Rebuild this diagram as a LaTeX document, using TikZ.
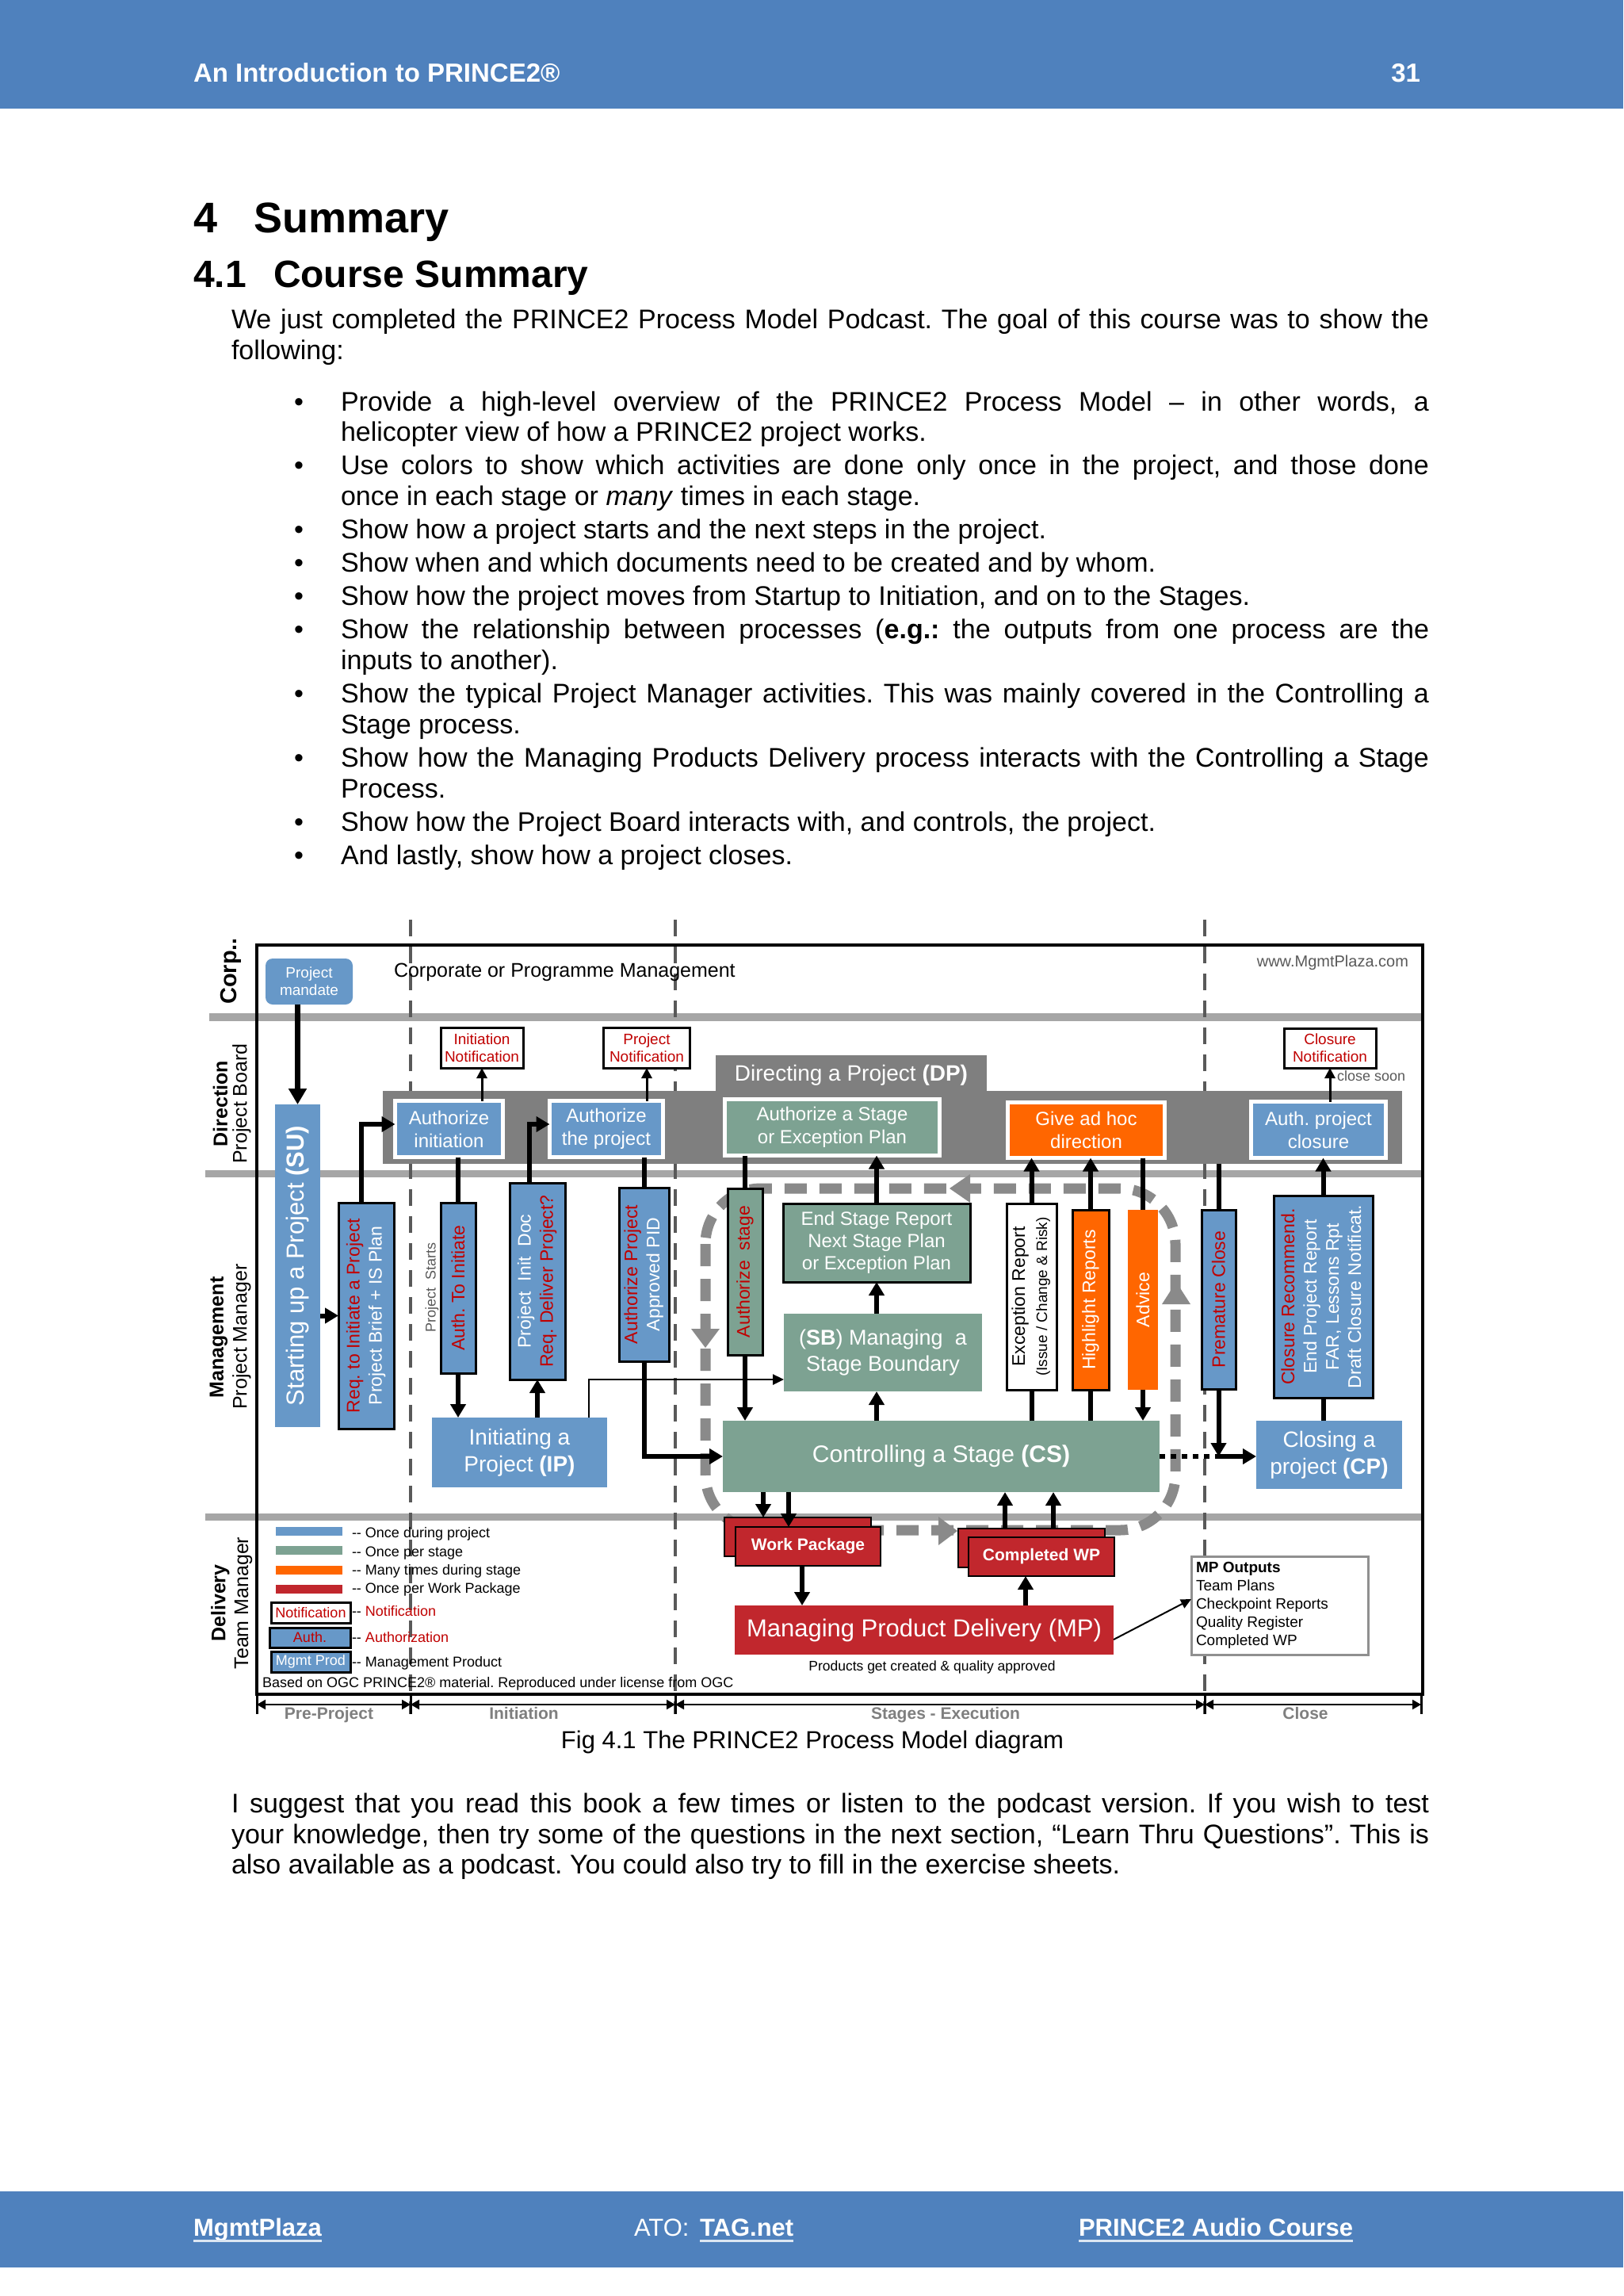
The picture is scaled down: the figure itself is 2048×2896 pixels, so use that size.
\documentclass[tikz,border=0pt]{standalone}
\usepackage{fontspec}
\usepackage{graphicx}
\setmainfont{Liberation Sans}
\usetikzlibrary{arrows.meta,calc}
\frenchspacing
\definecolor{hdrblue}{HTML}{4F81BD}
\definecolor{pblue}{HTML}{6798C8}
\definecolor{pgreen}{HTML}{7DA292}
\definecolor{porange}{HTML}{FF6600}
\definecolor{pred}{HTML}{C1272D}
\definecolor{tred}{HTML}{C00000}
\definecolor{bandgray}{HTML}{A6A6A6}
\definecolor{dpgray}{HTML}{7F7F7F}
\definecolor{dashgray}{HTML}{595959}
\definecolor{loopgray}{HTML}{8A8A8A}
\definecolor{phasegray}{HTML}{7F7F7F}
\definecolor{mpgray}{HTML}{909090}
\definecolor{ulcol}{HTML}{DCE6F2}
\newcommand{\fsz}[2]{\fontsize{#1}{#2}\selectfont}
\newcommand{\vtxt}[1]{\rotatebox{90}{\begin{tabular}{@{}c@{}}#1\end{tabular}}}
\tikzset{
  every node/.style={inner sep=0pt, outer sep=0pt},
  bx/.style={rectangle, align=center, text=white},
  blu/.style={bx, fill=pblue},
  grn/.style={bx, fill=pgreen},
  org/.style={bx, fill=porange},
  rd/.style={bx, fill=pred},
  wbord/.style={draw=white, line width=5pt},
  bbord/.style={draw=black, line width=3pt},
  wpbox/.style={rd, draw=black, line width=2.5pt, minimum height=49pt, font=\fsz{21}{24}\bfseries},
  notif/.style={rectangle, draw=black, line width=3pt, fill=white, text=tred, align=center, font=\fsz{19}{22}},
  thk/.style={line width=6pt, -{Triangle[length=17pt,width=19pt]}},
  bigarr/.style={line width=7pt, -{Triangle[length=20pt,width=22pt]}},
  thkn/.style={line width=6pt},
  thn/.style={line width=3pt, -{Triangle[length=13pt,width=13pt]}},
  phase/.style={line width=2pt, {Triangle[length=11pt,width=12pt]}-{Triangle[length=11pt,width=12pt]}},
  body/.style={anchor=base west, font=\fsz{34}{39}},
  sidelbl/.style={rotate=90, font=\fsz{25}{28}},
  vfont/.style={font=\fsz{23}{28}},
  legt/.style={anchor=base west, font=\fsz{18}{21}},
  phlbl/.style={anchor=base, text=phasegray, font=\fsz{21}{24}\bfseries},
  foot/.style={anchor=base west, text=white, font=\fsz{31}{36}\bfseries},
}
\begin{document}
\begin{tikzpicture}[x=1pt,y=-1pt]
\useasboundingbox (0,0) rectangle (2048,2896);
\fill[white] (0,0) rectangle (2048,2896);
% ---------- header ----------
\fill[hdrblue] (0,0) rectangle (2048,137);
\node[anchor=base west, text=white, font=\fsz{33}{38}\bfseries] (hdrT) at (244,103) {An Introduction to PRINCE2®};
\node[anchor=base east, text=white, font=\fsz{33}{38}\bfseries] (hdrN) at (1792,103) {31};
% ---------- headings ----------
\node[anchor=base west, font=\fsz{54}{60}\bfseries] (h1n) at (244,293) {4};
\node[anchor=base west, font=\fsz{54}{60}\bfseries] (h1t) at (320,293) {Summary};
\node[anchor=base west, font=\fsz{48}{54}\bfseries] (h2n) at (244,362) {4.1};
\node[anchor=base west, font=\fsz{48}{54}\bfseries] (h2t) at (345,362) {Course Summary};
% ---------- body ----------
\node[body] (p1) at (292,414.6) {\makebox[1511pt][s]{We just completed the PRINCE2 Process Model Podcast. The goal of this course was to show the}};
\node[body] (p2) at (292,453.4) {following:};
\node[body] (u1) at (371,518) {•};
\node[body] (b1a) at (430,518) {\makebox[1373pt][s]{Provide a high-level overview of the PRINCE2 Process Model – in other words, a}};
\node[body] (b1b) at (430,556.8) {helicopter view of how a PRINCE2 project works.};
\node[body] (u2) at (371,598.8) {•};
\node[body] (b2a) at (430,598.8) {\makebox[1373pt][s]{Use colors to show which activities are done only once in the project, and those done}};
\node[body] (b2b) at (430,637.6) {once in each stage or \textit{many} times in each stage.};
\node[body] (u3) at (371,679.6) {•};
\node[body] (b3) at (430,679.6) {Show how a project starts and the next steps in the project.};
\node[body] (u4) at (371,721.6) {•};
\node[body] (b4) at (430,721.6) {Show when and which documents need to be created and by whom.};
\node[body] (u5) at (371,763.6) {•};
\node[body] (b5) at (430,763.6) {Show how the project moves from Startup to Initiation, and on to the Stages.};
\node[body] (u6) at (371,805.6) {•};
\node[body] (b6a) at (430,805.6) {\makebox[1373pt][s]{Show the relationship between processes (\textbf{e.g.:} the outputs from one process are the}};
\node[body] (b6b) at (430,844.4) {inputs to another).};
\node[body] (u7) at (371,886.4) {•};
\node[body] (b7a) at (430,886.4) {\makebox[1373pt][s]{Show the typical Project Manager activities. This was mainly covered in the Controlling a}};
\node[body] (b7b) at (430,925.2) {Stage process.};
\node[body] (u8) at (371,967.2) {•};
\node[body] (b8a) at (430,967.2) {\makebox[1373pt][s]{Show how the Managing Products Delivery process interacts with the Controlling a Stage}};
\node[body] (b8b) at (430,1006) {Process.};
\node[body] (u9) at (371,1048) {•};
\node[body] (b9) at (430,1048) {Show how the Project Board interacts with, and controls, the project.};
\node[body] (u10) at (371,1090) {•};
\node[body] (b10) at (430,1090) {And lastly, show how a project closes.};
% ---------- diagram background ----------
\draw[bandgray, line width=10pt] (264,1283) -- (1795,1283);
\draw[bandgray, line width=9pt] (259,1480) -- (1795,1480);
\draw[bandgray, line width=9pt] (259,1913) -- (1795,1913);
\draw[dashgray, line width=4.5pt, dash pattern=on 21pt off 13pt] (518,1160) -- (518,2162);
\draw[dashgray, line width=4.5pt, dash pattern=on 21pt off 13pt] (852,1160) -- (852,2162);
\draw[dashgray, line width=4.5pt, dash pattern=on 21pt off 13pt] (1520,1160) -- (1520,2162);
\draw[line width=4pt] (324,1192) rectangle (1795,2137);
% stage loop
\draw[loopgray, line width=13pt, dash pattern=on 28pt off 16pt, rounded corners=70pt] (890,1499) rectangle (1483,1930);
\fill[loopgray] (1198,1499) -- (1224,1481) -- (1224,1517) -- cycle;
\fill[loopgray] (890,1700) -- (872,1676) -- (908,1676) -- cycle;
\fill[loopgray] (1208,1931) -- (1184,1913) -- (1184,1949) -- cycle;
\fill[loopgray] (1484,1617) -- (1466,1645) -- (1502,1645) -- cycle;
% ---------- side labels ----------
\node[sidelbl, font=\fsz{29}{32}\bfseries] (lCorp) at (291,1225) {Corp..};
\node[sidelbl, font=\fsz{25}{28}\bfseries] (lDir) at (278,1392) {Direction};
\node[sidelbl] (lPB) at (305,1392) {Project Board};
\node[sidelbl, font=\fsz{25}{28}\bfseries] (lMan) at (276,1687) {Management};
\node[sidelbl] (lPM) at (305,1686) {Project Manager};
\node[sidelbl, font=\fsz{25}{28}\bfseries] (lDel) at (278,2022) {Delivery};
\node[sidelbl] (lTM) at (307,2022) {Team Manager};
% ---------- corporate row ----------
\node[blu, minimum width=110pt, minimum height=58pt, rounded corners=9pt, font=\fsz{19}{22}] (mandate) at (390,1238) {Project\\mandate};
\node[anchor=base west, font=\fsz{25}{28}] (corpT) at (497,1232) {Corporate or Programme Management};
\node[anchor=base east, text=dashgray, font=\fsz{20}{24}] (www) at (1777,1219) {www.MgmtPlaza.com};
% ---------- notifications ----------
\node[notif, minimum width=104pt, minimum height=51pt] (InitN) at (608,1321.5) {Initiation\\Notification};
\node[notif, minimum width=109pt, minimum height=51pt] (ProjN) at (816,1321.5) {Project\\Notification};
\node[notif, minimum width=116pt, minimum height=50pt] (CloseN) at (1678,1322) {Closure\\Notification};
\node[anchor=base west, text=dashgray, font=\fsz{18}{22}] (closeSoon) at (1687,1363) {close soon};
% ---------- DP ----------
\node[fill=dpgray, minimum width=1286pt, minimum height=92pt] (DPband) at (1126,1422) {};
\node[fill=dpgray, minimum width=342pt, minimum height=50pt, text=white, font=\fsz{28}{32}] (DPtab) at (1074,1356) {Directing a Project \textbf{(DP)}};
\node[blu, wbord, minimum width=136pt, minimum height=71pt, font=\fsz{24}{29}] (AuthInit) at (566.5,1424) {Authorize\\initiation};
\node[blu, wbord, minimum width=143pt, minimum height=71pt, font=\fsz{24}{29}] (AuthProj) at (765,1424) {Authorize\\the project};
\node[grn, wbord, minimum width=271pt, minimum height=71pt, font=\fsz{24}{29}] (AuthStage) at (1050,1422) {Authorize a Stage\\or Exception Plan};
\node[org, wbord, minimum width=198pt, minimum height=70pt, font=\fsz{24}{29}] (GiveAdHoc) at (1370.5,1425.5) {Give ad hoc\\direction};
\node[blu, wbord, minimum width=170pt, minimum height=71pt, font=\fsz{24}{29}] (AuthClose) at (1663.5,1425) {Auth. project\\closure};
% ---------- management ----------
\node[blu, minimum width=57pt, minimum height=407pt, font=\fsz{31}{36}] (SU) at (375.5,1596.5) {\rotatebox{90}{Starting up a Project \textbf{(SU)}}};
\node[blu, bbord, minimum width=70pt, minimum height=285pt, vfont] (ReqInit) at (462,1659.5) {\vtxt{\color{tred}Req. to Initiate a Project\\Project Brief + IS Plan}};
\node[rotate=90, text=dashgray, font=\fsz{18}{22}] (pstart) at (545,1624) {Project\ \ Starts};
\node[blu, bbord, minimum width=44pt, minimum height=215pt, vfont, text=tred] (AuthToInit) at (578,1624.5) {\rotatebox{90}{Auth. To Initiate}};
\node[blu, bbord, minimum width=70pt, minimum height=248pt, vfont] (PID) at (678,1616) {\vtxt{Project\ \ Init\ \ Doc\\\color{tred}Req. Deliver Project?}};
\node[blu, minimum width=221pt, minimum height=88pt, font=\fsz{28}{34}] (IP) at (655.5,1832) {Initiating a\\Project \textbf{(IP)}};
\node[blu, bbord, minimum width=63pt, minimum height=219pt, vfont] (APID) at (812.5,1607.5) {\vtxt{\color{tred}Authorize Project\\Approved PID}};
\node[grn, bbord, minimum width=44pt, minimum height=210pt, vfont, text=tred] (AuthStg) at (940,1604) {\rotatebox{90}{Authorize\ \ stage}};
\node[grn, bbord, minimum width=236pt, minimum height=99pt, font=\fsz{24}{28}] (ESR) at (1106,1567.5) {End Stage Report\\Next Stage Plan\\or Exception Plan};
\node[grn, minimum width=250pt, minimum height=98pt, font=\fsz{27}{33}] (SB) at (1114,1706) {(\textbf{SB}) Managing\ \ a\\Stage Boundary};
\node[bx, fill=white, text=black, bbord, minimum width=63pt, minimum height=235pt, vfont] (ER) at (1301.5,1635.5) {\vtxt{Exception Report\\\fsz{19}{22}(Issue / Change \& Risk)}};
\node[org, bbord, minimum width=46pt, minimum height=227pt, vfont] (HR) at (1376,1639.5) {\rotatebox{90}{Highlight Reports}};
\node[org, minimum width=38pt, minimum height=227pt, vfont] (Advice) at (1442,1639.5) {\rotatebox{90}{Advice}};
\node[grn, minimum width=551pt, minimum height=90pt, font=\fsz{30}{36}] (CS) at (1187.5,1837) {Controlling a Stage \textbf{(CS)}};
\node[blu, bbord, minimum width=43pt, minimum height=226pt, vfont, text=tred] (PC) at (1537.5,1639) {\rotatebox{90}{Premature Close}};
\node[blu, bbord, minimum width=125pt, minimum height=255pt, vfont] (CR) at (1669.5,1635.5) {\vtxt{\color{tred}Closure Recommend.\\End Project Report\\FAR, Lessons Rpt\\Draft Closure Notificat.}};
\node[blu, minimum width=184pt, minimum height=86pt, font=\fsz{28}{34}] (CP) at (1677,1835) {Closing a\\project \textbf{(CP)}};
% ---------- delivery ----------
\node[wpbox, minimum width=185pt] (WPb) at (1006.5,1938.5) {};
\node[wpbox, minimum width=183pt] (WP) at (1019.5,1950.5) {Work Package};
\node[wpbox, minimum width=185pt] (CWb) at (1301.5,1952.5) {};
\node[wpbox, minimum width=184pt] (CW) at (1314,1963.5) {Completed WP};
\node[rd, minimum width=478pt, minimum height=62pt, font=\fsz{31}{36}] (MP) at (1166,2056) {Managing Product Delivery (MP)};
\node[anchor=base, font=\fsz{17.5}{21}] (MPsub) at (1176,2107) {Products get created \& quality approved};
\node[draw=mpgray, line width=3pt, fill=white, minimum width=223pt, minimum height=124pt] (MPout) at (1614.5,2025) {};
\node[anchor=north west, align=left, font=\fsz{19}{23}] (MPtxt) at (1509,1970) {\textbf{MP Outputs}\\Team Plans\\Checkpoint Reports\\Quality Register\\Completed WP};
% ---------- legend ----------
\fill[pblue] (348,1926) rectangle (432,1937);
\fill[pgreen] (348,1950) rectangle (432,1961);
\fill[porange] (348,1975) rectangle (432,1986);
\fill[pred] (348,1999) rectangle (432,2010);
\node[legt] (lg1) at (444,1939) {-{}- Once during project};
\node[legt] (lg2) at (444,1963) {-{}- Once per stage};
\node[legt] (lg3) at (444,1986) {-{}- Many times during stage};
\node[legt] (lg4) at (444,2009) {-{}- Once per Work Package};
\node[notif, minimum width=100pt, minimum height=26pt, font=\fsz{18}{20}] (LegN) at (392,2034) {Notification};
\node[blu, bbord, minimum width=102pt, minimum height=25pt, text=tred, font=\fsz{18}{20}] (LegA) at (391,2065.5) {Auth.};
\node[blu, bbord, minimum width=100pt, minimum height=26pt, font=\fsz{18}{20}] (LegM) at (392,2096) {Mgmt Prod};
\node[legt] (lg5) at (444,2038) {-{}- {\color{tred}Notification}};
\node[legt] (lg6) at (444,2071) {-{}- {\color{tred}Authorization}};
\node[legt] (lg7) at (444,2102) {-{}- Management Product};
\node[legt] (ogc) at (331,2128) {Based on OGC PRINCE2® material. Reproduced under license from OGC};
% ---------- connectors ----------
\draw[bigarr] (SU.north |- mandate.south) -- (SU.north);
\draw[thk] (SU.east |- ReqInit.west) -- (ReqInit.west);
\draw[thk] ([xshift=-6pt]ReqInit.north) |- ([yshift=6pt]AuthInit.west);
\draw[thn] (InitN.south |- AuthInit.north) -- (InitN.south);
\draw[thkn] (AuthToInit.north |- AuthInit.south) -- (AuthToInit.north);
\draw[thk] (AuthToInit.south) -- (AuthToInit.south |- IP.north);
\draw[thk] (PID.south |- IP.north) -- (PID.south);
\draw[thk] ([xshift=-10pt]PID.north) |- ([yshift=6pt]AuthProj.west);
\draw[thn] (ProjN.south |- AuthProj.north) -- (ProjN.south);
\draw[thkn] (APID.north |- AuthProj.south) -- (APID.north);
\draw[thk] (APID.south) |- (CS.west);
\draw[line width=2.5pt, -{Triangle[length=14pt,width=13pt]}] ([xshift=-23pt]IP.north east) |- ([yshift=-34pt]SB.west);
\draw[thkn] (AuthStg.north |- AuthStage.south) -- (AuthStg.north);
\draw[thk] (AuthStg.south) -- (AuthStg.south |- CS.north);
\draw[thk] (ESR.north) -- (ESR.north |- AuthStage.south);
\draw[thk] (ESR.south |- SB.north) -- (ESR.south);
\draw[thk] (ESR.south |- CS.north) -- (ESR.south |- SB.south);
\draw[thkn] (ER.south |- CS.north) -- (ER.south);
\draw[thk] (ER.north) -- (ER.north |- GiveAdHoc.south);
\draw[thkn] (HR.south |- CS.north) -- (HR.south);
\draw[thk] (HR.north) -- (HR.north |- GiveAdHoc.south);
\draw[thkn] (Advice.north |- GiveAdHoc.south) -- (Advice.north);
\draw[thk] (Advice.south) -- (Advice.south |- CS.north);
\draw[thkn] (PC.north |- DPband.south) -- (PC.north);
\coordinate (pcj) at (PC.south |- CS.east);
\draw[thk] (PC.south) -- (pcj);
\draw[line width=6pt, dash pattern=on 7pt off 7pt] (CS.east) -- (pcj);
\draw[thk] (pcj) -- (pcj -| CP.west);
\draw[thk] (CR.north) -- (CR.north |- AuthClose.south);
\draw[thkn] (CR.south |- CP.north) -- (CR.south);
\draw[thn] (AuthClose.north -| CloseN.south) -- (CloseN.south);
\coordinate (wpx1) at ([xshift=49pt]WPb.north west);
\coordinate (wpx2) at ([xshift=67pt]WP.north west);
\coordinate (wpx3) at ([xshift=84pt]WP.south west);
\coordinate (cwx1) at ([xshift=59pt]CWb.north west);
\coordinate (cwx2) at ([xshift=120pt]CWb.north west);
\coordinate (cwx3) at ([xshift=72pt]CW.south west);
\draw[thk] (wpx1 |- CS.south) -- (wpx1);
\draw[thk] (wpx2 |- CS.south) -- (wpx2);
\draw[thk] (wpx3) -- (wpx3 |- MP.north);
\draw[thk] (cwx1) -- (cwx1 |- CS.south);
\draw[thk] (cwx2) -- (cwx2 |- CS.south);
\draw[thk] (cwx3 |- MP.north) -- (cwx3);
\draw[line width=2pt, -{Triangle[length=13pt,width=12pt]}] ([yshift=-12pt]MP.east) -- ([yshift=8pt]MPout.west);
% ---------- phases ----------
\coordinate (ph0) at (324,2150);
\coordinate (ph1) at (518,2150);
\coordinate (ph2) at (852,2150);
\coordinate (ph3) at (1520,2150);
\coordinate (ph4) at (1793,2150);
\foreach \px in {324,518,852,1520,1793} \draw[line width=3pt] (\px,2137) -- (\px,2162);
\draw[phase] (ph0) -- (ph1);
\draw[phase] (ph1) -- (ph2);
\draw[phase] (ph2) -- (ph3);
\draw[phase] (ph3) -- (ph4);
\node[phlbl] (lPre) at (415,2168) {Pre-Project};
\node[phlbl] (lIni) at (661,2168) {Initiation};
\node[phlbl] (lSta) at (1193,2168) {Stages - Execution};
\node[phlbl] (lClo) at (1647,2168) {Close};
% ---------- caption & closing ----------
\node[anchor=base, font=\fsz{31}{36}] (cap) at (1025,2205) {Fig 4.1 The PRINCE2 Process Model diagram};
\node[body] (c1) at (292,2286) {\makebox[1511pt][s]{I suggest that you read this book a few times or listen to the podcast version. If you wish to test}};
\node[body] (c2) at (292,2325) {\makebox[1511pt][s]{your knowledge, then try some of the questions in the next section, “Learn Thru Questions”. This is}};
\node[body] (c3) at (292,2363) {also available as a podcast. You could also try to fill in the exercise sheets.};
% ---------- footer ----------
\fill[hdrblue] (0,2764) rectangle (2048,2860);
\node[foot] (fMP) at (244,2820) {MgmtPlaza};
\node[foot, font=\fsz{31}{36}] (fATO) at (800,2820) {ATO:};
\node[foot] (fTAG) at (883,2820) {TAG.net};
\node[foot] (fPA) at (1361,2820) {PRINCE2 Audio Course};
\draw[ulcol, line width=3pt] ([yshift=-6pt]fMP.base west) -- ([yshift=-6pt]fMP.base east);
\draw[ulcol, line width=3pt] ([yshift=-6pt]fTAG.base west) -- ([yshift=-6pt]fTAG.base east);
\draw[ulcol, line width=3pt] ([yshift=-6pt]fPA.base west) -- ([yshift=-6pt]fPA.base east);
\end{tikzpicture}
\end{document}
